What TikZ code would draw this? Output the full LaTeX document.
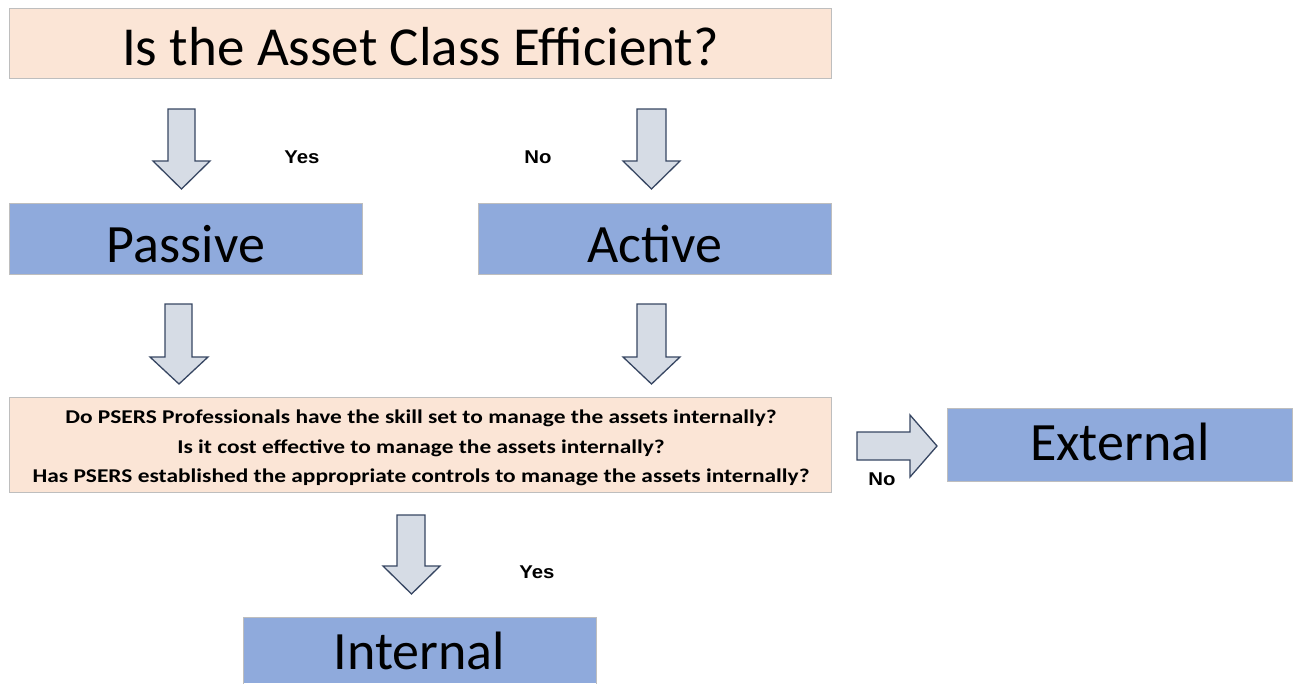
\documentclass[tikz,border=0pt]{standalone}
\usepackage{fontspec}
\setmainfont{Carlito}
\newfontfamily\labfont[FakeStretch=1.1]{Liberation Sans}
\newfontfamily\qfont[FakeStretch=1.2]{Carlito}
\definecolor{peach}{RGB}{251,229,214}
\definecolor{bluebox}{RGB}{143,170,220}
\definecolor{boxline}{RGB}{190,190,190}
\definecolor{arrfill}{RGB}{214,220,229}
\definecolor{arrline}{RGB}{55,70,98}
\tikzset{
  peachbox/.style={draw=boxline, line width=0.8pt, fill=peach, inner sep=0pt, anchor=north west},
  bluebx/.style={draw=boxline, line width=0.8pt, fill=bluebox, inner sep=0pt, anchor=north west, font=\fontsize{54}{60}\selectfont},
  blockarrow/.style={draw=arrline, fill=arrfill, line width=1.3pt, line join=miter},
  lab/.style={font=\labfont\bfseries\fontsize{18.5}{20}\selectfont, inner sep=0pt},
  qline/.style={font=\qfont\bfseries\fontsize{19.5}{22}\selectfont, inner sep=0pt, anchor=base}
}
\begin{document}
\begin{tikzpicture}[x=1pt,y=-1pt]
\useasboundingbox (0,0) rectangle (1293,683);
% boxes
\node[peachbox, minimum width=822pt, minimum height=70pt, text height=47pt, text depth=3.6pt, font=\fontsize{55}{60}\selectfont] (q1) at (9,8) {Is the Asset Class Efficient?};
\node[bluebx, minimum width=353pt, minimum height=71pt, text height=50pt, text depth=3pt] (passive) at (9,203) {Passive};
\node[bluebx, minimum width=353pt, minimum height=71pt, text height=50pt, text depth=3pt] (active) at (478,203) {Active};
\node[peachbox, minimum width=822pt, minimum height=95pt] (q2) at (9,397) {};
\node[qline] (q2a) at (421,423.5) {Do PSERS Professionals have the skill set to manage the assets internally?};
\node[qline] (q2b) at (421,453) {Is it cost effective to manage the assets internally?};
\node[qline] (q2c) at (421,482) {Has PSERS established the appropriate controls to manage the assets internally?};
\node[bluebx, minimum width=345pt, minimum height=73pt, text height=35pt, text depth=3.2pt] (external) at (947,408) {External};
\node[bluebx, draw=none, minimum width=353pt, minimum height=66pt] (internalbox) at (243,617) {};
\draw[boxline, line width=0.8pt] (internalbox.south west) -- (internalbox.north west) -- (internalbox.north east) -- (internalbox.south east);
\node[font=\fontsize{54}{60}\selectfont, inner sep=0pt, anchor=base] (internal) at (419.5,669.5) {Internal};
% block arrows (down)
\draw[blockarrow] (168,109) -- (195,109) -- (195,161) -- (210,161) -- (181.5,189) -- (153,161) -- (168,161) -- cycle;
\draw[blockarrow] (637,109) -- (666,109) -- (666,161) -- (680,161) -- (651.5,189) -- (623,161) -- (637,161) -- cycle;
\draw[blockarrow] (165,304) -- (192,304) -- (192,357) -- (208,357) -- (179,384) -- (150,357) -- (165,357) -- cycle;
\draw[blockarrow] (637,304) -- (666,304) -- (666,357) -- (680,357) -- (651.5,384) -- (623,357) -- (637,357) -- cycle;
\draw[blockarrow] (397,515) -- (425,515) -- (425,566) -- (440,566) -- (411.5,594) -- (383,566) -- (397,566) -- cycle;
% block arrow (right)
\draw[blockarrow] (857,432) -- (910,432) -- (910,415) -- (937,446) -- (910,477) -- (910,460) -- (857,460) -- cycle;
% labels
\node[lab] (yes1) at (302,157) {Yes};
\node[lab] (no1) at (538,157) {No};
\node[lab] (no2) at (882,479) {No};
\node[lab] (yes2) at (537,572) {Yes};
\end{tikzpicture}
\end{document}
